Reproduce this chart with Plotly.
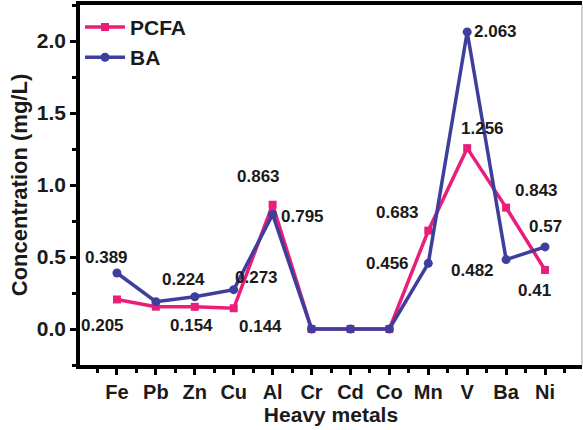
import plotly.graph_objects as go

categories = ["Fe", "Pb", "Zn", "Cu", "Al", "Cr", "Cd", "Co", "Mn", "V", "Ba", "Ni"]
pcfa = [0.205, 0.155, 0.154, 0.144, 0.863, 0, 0, 0, 0.683, 1.256, 0.843, 0.41]
ba = [0.389, 0.19, 0.224, 0.273, 0.795, 0, 0, 0, 0.456, 2.063, 0.482, 0.57]

# value labels: index -> (text, dx, dy) in pixels
pcfa_labels = {0: ("0.205", -14, 26), 2: ("0.154", -3, 19), 3: ("0.144", 27, 18),
               4: ("0.863", -14, -28), 8: ("0.683", -31, -18), 9: ("1.256", 15, -20),
               10: ("0.843", 30, -17), 11: ("0.41", -11, 21)}
ba_labels = {0: ("0.389", -10, -15), 2: ("0.224", -11, -17), 3: ("0.273", 23, -12),
             4: ("0.795", 30, 2), 8: ("0.456", -41, 0), 9: ("2.063", 28, 0),
             10: ("0.482", -34, 11), 11: ("0.57", 0, -20)}

PINK = "#EA1E78"
BLUE = "#3E3F9C"
INK = "#1a1a1a"
FONT = "Arial, Liberation Sans, sans-serif"

x = list(range(len(categories)))
fig = go.Figure()
fig.add_trace(go.Scatter(x=x, y=pcfa, name="PCFA", mode="lines+markers",
                         line=dict(color=PINK, width=3.5),
                         marker=dict(symbol="square", size=8, color=PINK)))
fig.add_trace(go.Scatter(x=x, y=ba, name="BA", mode="lines+markers",
                         line=dict(color=BLUE, width=3.5),
                         marker=dict(symbol="circle", size=9, color=BLUE)))

for series, labels in ((pcfa, pcfa_labels), (ba, ba_labels)):
    for i, (txt, dx, dy) in labels.items():
        fig.add_annotation(x=x[i], y=series[i], text=txt, showarrow=False,
                           xshift=dx, yshift=-dy,
                           font=dict(family=FONT, size=17, color=INK, weight="bold"))

# faint right edge of the frame (cut off in the original)
fig.add_shape(type="line", xref="paper", yref="paper", x0=1, x1=1, y0=0, y1=1,
              line=dict(color="#cfcfcf", width=2))

fig.update_layout(
    width=583, height=430,
    margin=dict(l=80, r=1, t=5, b=65),
    plot_bgcolor="white", paper_bgcolor="white",
    showlegend=True,
    legend=dict(x=0.0, y=0.995, xanchor="left", yanchor="top",
                bgcolor="rgba(0,0,0,0)",
                font=dict(family=FONT, size=21, color=INK, weight="bold"),
                itemwidth=40, tracegroupgap=0),
)
fig.update_xaxes(
    range=[-0.95, 11.95], tickvals=x, ticktext=categories,
    automargin=False,
    showgrid=False, zeroline=False,
    showline=True, linecolor="black", linewidth=3.5, mirror=True,
    ticks="outside", ticklen=6, tickwidth=3, tickcolor="black",
    minor=dict(tickvals=[i + 0.5 for i in range(-1, 12)], ticks="outside",
               ticklen=4, tickwidth=2.5, tickcolor="black"),
    tickfont=dict(family=FONT, size=20, color=INK, weight="bold"),
    title=dict(text="Heavy metals", standoff=2,
               font=dict(family=FONT, size=21, color=INK, weight="bold")),
)
fig.update_yaxes(
    range=[-0.25, 2.25], tickvals=[0, 0.5, 1.0, 1.5, 2.0], tickformat=".1f",
    automargin=False,
    showgrid=False, zeroline=False,
    showline=True, linecolor="black", linewidth=3.5, mirror=False,
    ticks="outside", ticklen=6, tickwidth=3, tickcolor="black",
    minor=dict(tickvals=[-0.25, 0.25, 0.75, 1.25, 1.75, 2.25], ticks="outside",
               ticklen=4, tickwidth=2.5, tickcolor="black"),
    tickfont=dict(family=FONT, size=21, color=INK, weight="bold"),
    title=dict(text="Concentration (mg/L)", standoff=4,
               font=dict(family=FONT, size=22, color=INK, weight="bold")),
)

fig.write_html("out.html", config={"displayModeBar": False},
               post_script="document.body.style.margin='0';document.body.style.overflow='hidden';")
